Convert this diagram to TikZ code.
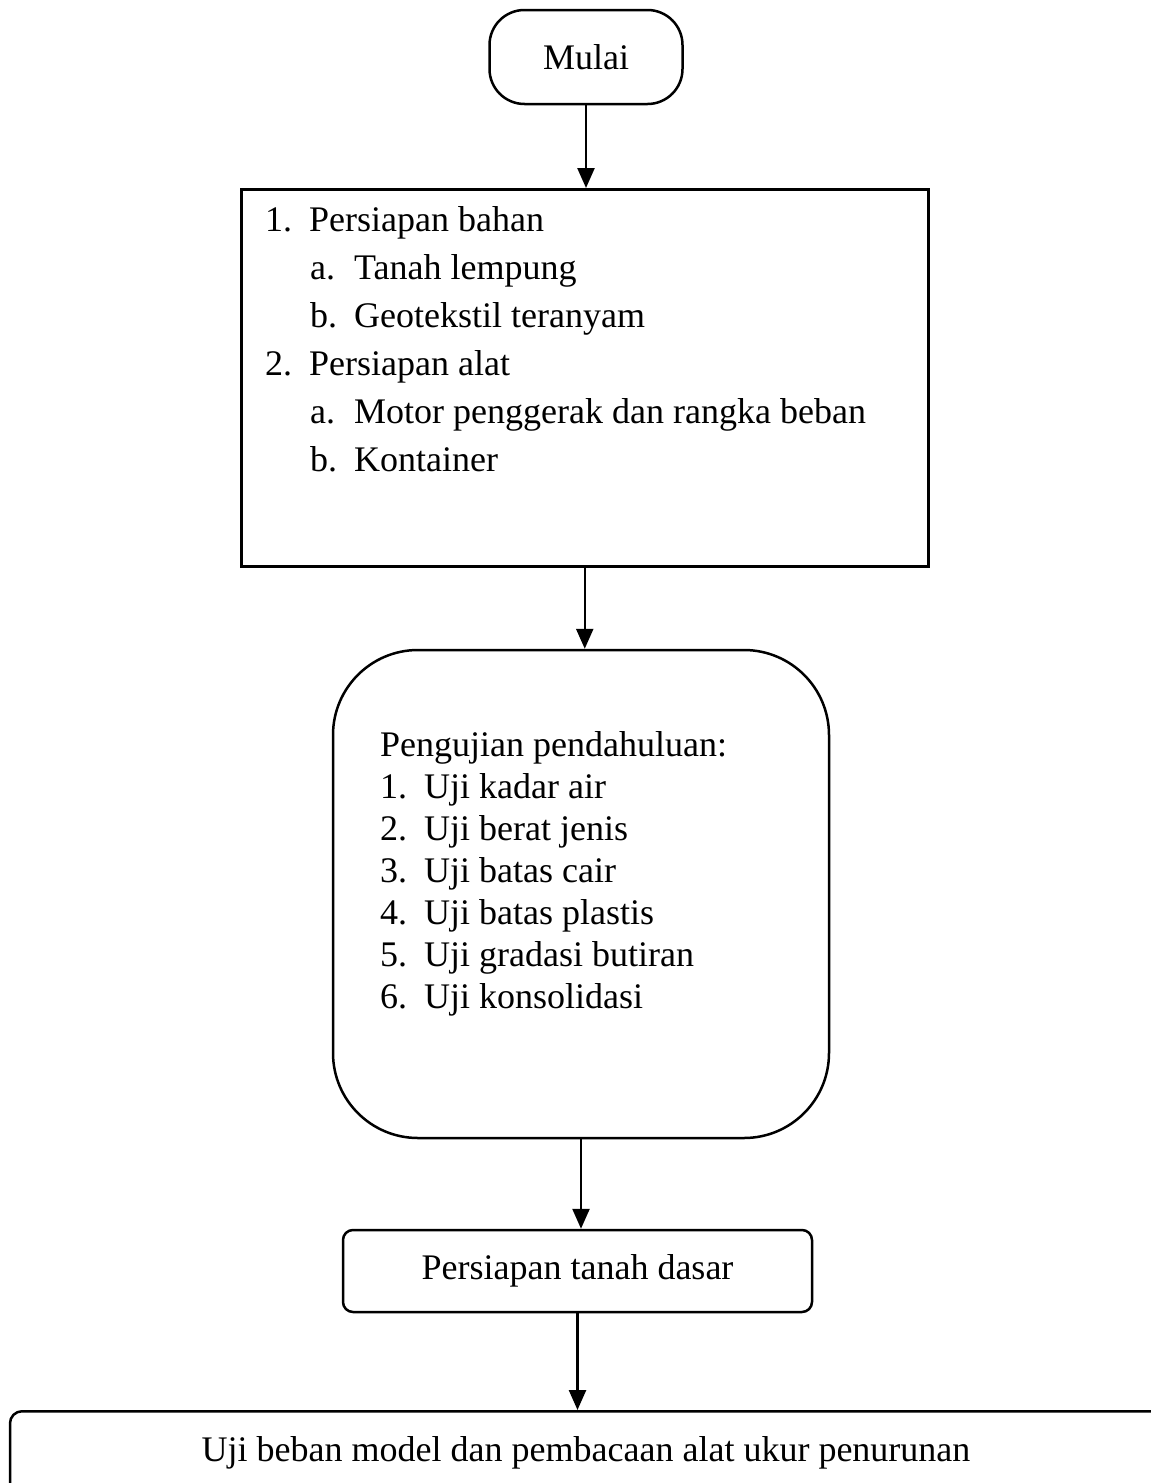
\documentclass[tikz,border=0pt]{standalone}
\usepackage{fontspec}
\setmainfont{Liberation Serif}
\usetikzlibrary{arrows.meta,positioning}
\newcommand{\itemline}[2]{\makebox[44pt][l]{#1}#2}

\begin{document}
\begin{tikzpicture}[
  x=1pt, y=-1pt,
  font=\fontsize{36}{48}\selectfont,
  flowbox/.style={draw, line width=2.5pt, inner sep=0pt},
  listtext/.style={align=left, inner sep=0pt, anchor=north west},
  arrow/.style={-{Triangle[length=20pt,width=17pt]}, line width=2.5pt}
]
\useasboundingbox (0,0) rectangle (1151,1483);
\clip (0,0) rectangle (1151,1483);

\node[flowbox, rounded corners=35pt, minimum width=193pt, minimum height=94pt] (mulai) at (586,57) {Mulai};
\node[flowbox, minimum width=687pt, minimum height=377pt, anchor=north west] (persiapan) at (240,188) {};
\node[listtext] (persiapantext) at (265,206) {%
  \itemline{1.}{Persiapan bahan}\\
  \hspace{45pt}\itemline{a.}{Tanah lempung}\\
  \hspace{45pt}\itemline{b.}{Geotekstil teranyam}\\
  \itemline{2.}{Persiapan alat}\\
  \hspace{45pt}\itemline{a.}{Motor penggerak dan rangka beban}\\
  \hspace{45pt}\itemline{b.}{Kontainer}};
\node[flowbox, rounded corners=85pt, minimum width=496pt, minimum height=488pt] (pendahuluan) at (581,894) {};
\node[listtext, font=\fontsize{36}{42}\selectfont] (pendahuluantext) at (380,731) {%
  Pengujian pendahuluan:\\
  \itemline{1.}{Uji kadar air}\\
  \itemline{2.}{Uji berat jenis}\\
  \itemline{3.}{Uji batas cair}\\
  \itemline{4.}{Uji batas plastis}\\
  \itemline{5.}{Uji gradasi butiran}\\
  \itemline{6.}{Uji konsolidasi}};
\node[flowbox, rounded corners=10pt, minimum width=469pt, minimum height=82pt] (tanah) at (577.5,1271) {Persiapan tanah dasar};
\node[flowbox, rounded corners=12pt, anchor=north, minimum width=1152pt, text height=50pt, text depth=50pt] (ujibeban) at (586,1410) {Uji beban model dan pembacaan alat ukur penurunan};

\draw[arrow] (mulai) -- (mulai |- persiapan.north);
\draw[arrow] (persiapan) -- (persiapan |- pendahuluan.north);
\draw[arrow] (pendahuluan) -- (pendahuluan |- tanah.north);
\draw[arrow] (tanah) -- (tanah |- ujibeban.north);
\end{tikzpicture}
\end{document}
